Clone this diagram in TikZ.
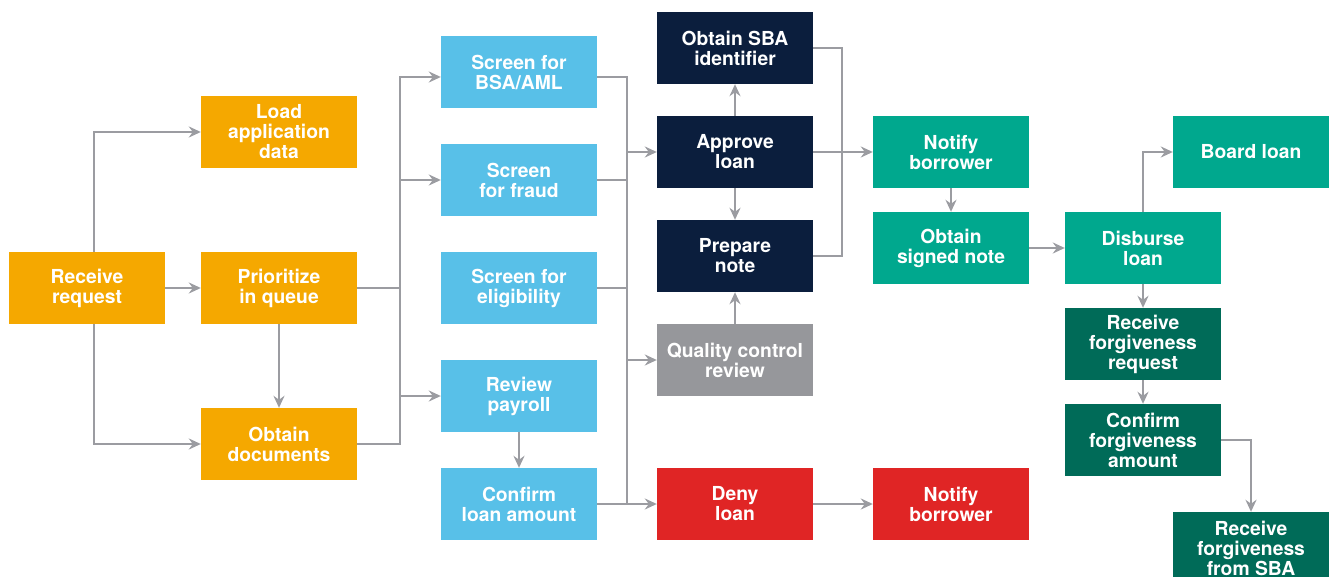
\documentclass[tikz,border=0pt]{standalone}
\usepackage{fontspec}
\setmainfont{TeX Gyre Heros}
\usetikzlibrary{arrows.meta,calc}
\definecolor{corange}{RGB}{245,168,0}
\definecolor{cblue}{RGB}{88,192,232}
\definecolor{cnavy}{RGB}{11,30,61}
\definecolor{cgray}{RGB}{150,151,155}
\definecolor{cred}{RGB}{224,37,37}
\definecolor{cteal}{RGB}{0,168,142}
\definecolor{cdgreen}{RGB}{0,107,88}
\definecolor{cline}{RGB}{155,156,161}
\tikzset{
  box/.style={rectangle, minimum width=156pt, minimum height=72pt, inner sep=0pt,
    align=center, text=white, font=\fontsize{19.3}{20}\selectfont\bfseries},
  ln/.style={draw=cline, line width=2.6pt},
  arr/.style={ln, -{Stealth[length=12pt,width=11pt,inset=4pt]}}
}
\begin{document}
\begin{tikzpicture}[x=1pt,y=-1pt]
\useasboundingbox (0,0) rectangle (1329,577);
\clip (0,0) rectangle (1329,577);
% nodes
\node[box,fill=corange] (rr) at (87,288) {Receive\\request};
\node[box,fill=corange] (lad) at (279,132) {Load\\application\\data};
\node[box,fill=corange] (piq) at (279,288) {Prioritize\\in queue};
\node[box,fill=corange] (od) at (279,444) {Obtain\\documents};
\node[box,fill=cblue] (bsa) at (519,72) {Screen for\\BSA/AML};
\node[box,fill=cblue] (fraud) at (519,180) {Screen\\for fraud};
\node[box,fill=cblue] (elig) at (519,288) {Screen for\\eligibility};
\node[box,fill=cblue] (payroll) at (519,396) {Review\\payroll};
\node[box,fill=cblue] (cla) at (519,504) {Confirm\\loan amount};
\node[box,fill=cnavy] (sba) at (735,48) {Obtain SBA\\identifier};
\node[box,fill=cnavy] (approve) at (735,152) {Approve\\loan};
\node[box,fill=cnavy] (prep) at (735,256) {Prepare\\note};
\node[box,fill=cgray] (qc) at (735,360) {Quality control\\review};
\node[box,fill=cred] (deny) at (735,504) {Deny\\loan};
\node[box,fill=cteal] (nb) at (951,152) {Notify\\borrower};
\node[box,fill=cteal] (osn) at (951,248) {Obtain\\signed note};
\node[box,fill=cred] (nbr) at (951,504) {Notify\\borrower};
\node[box,fill=cteal] (disb) at (1143,248) {Disburse\\loan};
\node[box,fill=cteal] (board) at (1251,152) {Board loan};
\node[box,fill=cdgreen] (rfr) at (1143,344) {Receive\\forgiveness\\request};
\node[box,fill=cdgreen] (cfa) at (1143,440) {Confirm\\forgiveness\\amount};
\node[box,fill=cdgreen] (rfs) at (1251,548) {Receive\\forgiveness\\from SBA};
% bus coordinates
\coordinate (bL) at (400,0);
\coordinate (bR) at (627,0);
\coordinate (bD) at (842,0);
\coordinate (bsaIn) at ([yshift=-5pt]bsa.west);
\coordinate (bsaOut) at ([yshift=-5pt]bsa.east);
% left section
\draw[arr] ([xshift=7pt]rr.north) |- (lad.west);
\draw[arr] (rr.east) -- (piq.west);
\draw[arr] ([xshift=7pt]rr.south) |- (od.west);
\draw[arr] (piq.south) -- (od.north);
\draw[arr] (od.east) -| (bL |- bsaIn) -- (bsaIn);
\draw[ln] (piq.east) -- (piq.east -| bL);
\draw[arr] (bL |- fraud.west) -- (fraud.west);
\draw[arr] (bL |- payroll.west) -- (payroll.west);
% screening section
\draw[arr] (payroll.south) -- (cla.north);
\draw[ln] (bsaOut) -| (bR |- deny.west);
\draw[arr] (cla.east) -- (deny.west);
\draw[ln] (fraud.east) -- (fraud.east -| bR);
\draw[ln] (elig.east) -- (elig.east -| bR);
\draw[arr] (bR |- approve.west) -- (approve.west);
\draw[arr] (bR |- qc.west) -- (qc.west);
% approval section
\draw[arr] (approve.north) -- (sba.south);
\draw[arr] (approve.south) -- (prep.north);
\draw[arr] (qc.north) -- (prep.south);
\draw[ln] (sba.east) -| (bD |- prep.east) -- (prep.east);
\draw[arr] (approve.east) -- (nb.west);
\draw[arr] (deny.east) -- (nbr.west);
% closing section
\draw[arr] (nb.south) -- (osn.north);
\draw[arr] (osn.east) -- (disb.west);
\draw[arr] (disb.north) |- (board.west);
\draw[arr] (disb.south) -- (rfr.north);
\draw[arr] (rfr.south) -- (cfa.north);
\draw[arr] (cfa.east) -| (rfs.north);
\end{tikzpicture}
\end{document}
